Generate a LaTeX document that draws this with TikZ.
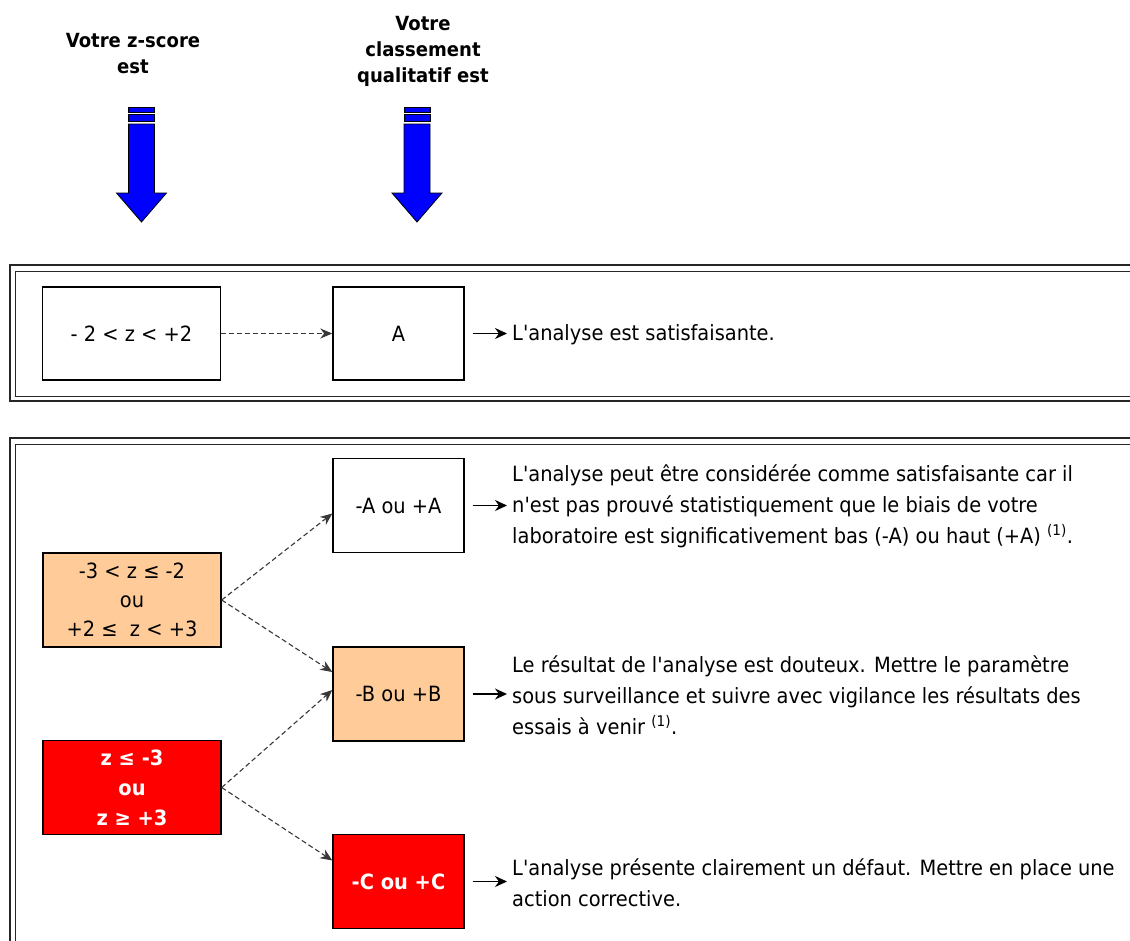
\documentclass[tikz,border=0pt]{standalone}
\usepackage{fontspec}
\newfontfamily\tfont{DejaVu Sans}[FakeStretch=0.925]
\usetikzlibrary{arrows.meta,calc}
\definecolor{peach}{HTML}{FFCC99}
\definecolor{zred}{HTML}{FF0000}
\definecolor{zblue}{HTML}{0000FF}
\definecolor{dashgray}{HTML}{383838}
\tikzset{
  box/.style={draw=black, line width=1.4pt, minimum width=131pt, minimum height=94pt, inner sep=2pt, align=center, font=\tfont\fontsize{21}{29}\selectfont},
  zbox/.style={box, minimum width=178pt},
  redbox/.style={fill=zred, text=white, font=\tfont\fontsize{21}{30}\selectfont\bfseries},
  peachbox/.style={fill=peach},
  dasharrow/.style={draw=dashgray, line width=1.1pt, dash pattern=on 5pt off 3pt, -{Stealth[length=12pt,width=10pt]}},
  solidarrow/.style={draw=black, line width=1.3pt, -{Stealth[length=12pt,width=11pt]}},
  desc/.style={anchor=west, align=left, inner sep=0pt, font=\tfont\fontsize{21}{31}\selectfont},
  title/.style={align=center, font=\tfont\fontsize{19.5}{26}\selectfont\bfseries},
  bluearrow/.style={fill=zblue, draw=black, line width=0.8pt},
  panelouter/.style={draw=black!85, line width=2pt},
  panelinner/.style={draw=black!85, line width=1pt}
}
\begin{document}
\begin{tikzpicture}[x=1pt,y=-1pt]
\useasboundingbox (0,0) rectangle (1130,940);
\fill[white] (0,0) rectangle (1130,940);

% titles
\node[title] (t1) at (133,54) {Votre z-score\\est};
\node[title] (t2) at (423,51) {Votre\\classement\\qualitatif est};

% blue arrows
\foreach \cx in {141.5,417} {
  \filldraw[bluearrow] (\cx-13,107) rectangle (\cx+13,112);
  \filldraw[bluearrow] (\cx-13,114.5) rectangle (\cx+13,121);
  \filldraw[bluearrow] (\cx-13,124) -- (\cx+13,124) -- (\cx+13,193) -- (\cx+25,193)
     -- (\cx,222) -- (\cx-25,193) -- (\cx-13,193) -- cycle;
}

% panels
\draw[panelouter] (1140,265) -- (10,265) -- (10,401) -- (1140,401);
\draw[panelinner] (1140,271) -- (15.5,271) -- (15.5,396) -- (1140,396);
\draw[panelouter] (1140,438) -- (10,438) -- (10,950);
\draw[panelinner] (1140,444) -- (15.5,444) -- (15.5,950);

% panel 1
\node[zbox, minimum height=93pt] (z1) at (131.5,333.5) {- 2 < z < +2};
\node[box, minimum height=93pt] (cA) at (398.5,333.5) {A};
\node[desc] (tA1) at (512,335) {L'analyse est satisfaisante.};
\draw[dasharrow] (z1.east) -- (cA.west);
\draw[solidarrow] ([xshift=8pt]cA.east) -- ([xshift=-5pt]tA1.west |- cA.east);

% panel 2
\node[zbox, peachbox] (zo) at (132,600) {-3 < z ≤ -2\\ou\\+2 ≤~ z < +3};
\node[zbox, redbox] (zr) at (132,787.5) {z ≤ -3\\ou\\z ≥ +3};
\node[box] (cAA) at (398.5,505.5) {-A ou +A};
\node[box, peachbox] (cB) at (398.5,694) {-B ou +B};
\node[box, redbox] (cC) at (398.5,881.5) {-C ou +C};

\draw[dasharrow] (zo.east) -- ([yshift=-8pt]cAA.west);
\draw[dasharrow] (zo.east) -- ([yshift=22pt]cB.west);
\draw[dasharrow] (zr.east) -- ([yshift=4pt]cB.west);
\draw[dasharrow] (zr.east) -- ([yshift=21pt]cC.west);

\node[desc] (tAA) at (512,506) {L'analyse peut être considérée comme satisfaisante car il\\n'est pas prouvé statistiquement que le biais de votre\\laboratoire est significativement bas (-A) ou haut (+A) \textsuperscript{(1)}.};
\node[desc] (tB) at (512,695) {Le résultat de l'analyse est douteux. Mettre le paramètre\\sous surveillance et suivre avec vigilance les résultats des\\essais à venir \textsuperscript{(1)}.};
\node[desc] (tC) at (512,882.5) {L'analyse présente clairement un défaut. Mettre en place une\\action corrective.};

\draw[solidarrow] ([xshift=8pt]cAA.east) -- ([xshift=-5pt]tAA.west |- cAA.east);
\draw[solidarrow] ([xshift=8pt]cB.east) -- ([xshift=-5pt]tB.west |- cB.east);
\draw[solidarrow] ([xshift=8pt]cC.east) -- ([xshift=-5pt]tC.west |- cC.east);
\end{tikzpicture}
\end{document}
